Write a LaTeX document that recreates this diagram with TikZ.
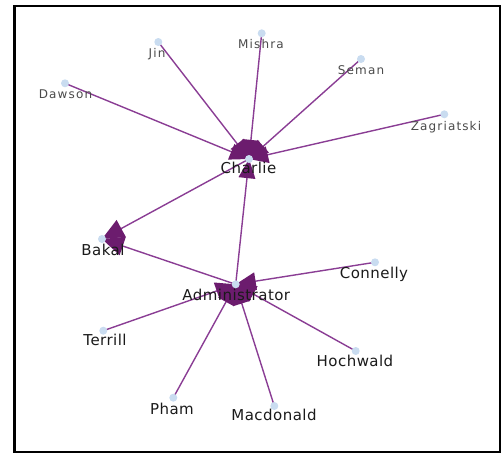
\documentclass[tikz,border=0pt]{standalone}
\usepackage{fontspec}
\setmainfont{DejaVu Sans}
\newfontfamily\leaffont[LetterSpace=9.5]{DejaVu Sans}
\newfontfamily\hubfont[LetterSpace=3]{DejaVu Sans}
\usetikzlibrary{calc}
\definecolor{edgepurple}{HTML}{8A3D94}
\definecolor{wedgepurple}{HTML}{6C1C6E}
\definecolor{dotblue}{HTML}{C9DCF0}
\definecolor{leafgray}{HTML}{4A4A4A}
\definecolor{hubblack}{HTML}{1A1A1A}
% triangular wedge at the tail of an edge: #1 tail, #2 head, #3 length
\newcommand\edgetri[3]{\fill[wedgepurple] (#1) -- ($(#1)!#3!24:(#2)$) -- ($(#1)!#3!-24:(#2)$) -- cycle;}
\begin{document}
\begin{tikzpicture}[x=1pt,y=-1pt,
  link/.style={draw=edgepurple,line width=1.4pt},
  dot/.style={circle,fill=dotblue,inner sep=0pt,minimum size=8pt},
  outerlabel/.style={anchor=base,inner sep=0pt,text=leafgray,font=\leaffont\fontsize{12}{14}\selectfont},
  innerlabel/.style={anchor=base,inner sep=0pt,text=hubblack,font=\hubfont\fontsize{15}{17}\selectfont}]
\useasboundingbox (0,0) rectangle (501,455);
\draw[line width=2.5pt] (14.5,6) rectangle (500,452);

% vertex positions
\coordinate (charlie)    at (249,159);
\coordinate (dawson)     at (65,83.3);
\coordinate (jin)        at (158.3,42);
\coordinate (mishra)     at (261.7,33.3);
\coordinate (seman)      at (361,59);
\coordinate (zagriatski) at (444.3,114.3);
\coordinate (bakal)      at (102,239);
\coordinate (admin)      at (235.7,284.3);
\coordinate (connelly)   at (375,262.3);
\coordinate (hochwald)   at (355.7,351);
\coordinate (terrill)    at (103.3,330.7);
\coordinate (pham)       at (173.3,397.7);
\coordinate (macdonald)  at (274.3,406);

% links
\foreach \t in {dawson,jin,mishra,seman,zagriatski,bakal,admin}
  \draw[link] (charlie) -- (\t);
\draw[link] (bakal) -- (admin);
\foreach \t in {connelly,hochwald,terrill,pham,macdonald}
  \draw[link] (admin) -- (\t);

% wedges
\foreach \t in {dawson,jin,mishra,seman,zagriatski,admin}
  {\edgetri{charlie}{\t}{21pt}}
\edgetri{bakal}{charlie}{24pt}
\edgetri{bakal}{admin}{24pt}
\foreach \t in {connelly,hochwald,terrill,pham,macdonald}
  {\edgetri{admin}{\t}{22pt}}

% vertex dots
\foreach \v in {charlie,dawson,jin,mishra,seman,zagriatski,bakal,admin,connelly,hochwald,terrill,pham,macdonald}
  \node[dot] (\v-dot) at (\v) {};

% labels
\node[outerlabel] (l-jin)        at (157,57)    {Jin};
\node[outerlabel] (l-mishra)     at (261,48.7)  {Mishra};
\node[outerlabel] (l-seman)      at (361,74)    {Seman};
\node[outerlabel] (l-dawson)     at (65.5,98)   {Dawson};
\node[outerlabel] (l-zagriatski) at (446,130)   {Zagriatski};
\node[innerlabel] (l-charlie)    at (248.5,173.3) {Charlie};
\node[innerlabel] (l-bakal)      at (103,255)   {Bakal};
\node[innerlabel] (l-admin)      at (236.3,300) {Administrator};
\node[innerlabel] (l-connelly)   at (374,278)   {Connelly};
\node[innerlabel] (l-hochwald)   at (355,366.7) {Hochwald};
\node[innerlabel] (l-terrill)    at (105,345)   {Terrill};
\node[innerlabel] (l-pham)       at (172,414)   {Pham};
\node[innerlabel] (l-macdonald)  at (274,420.7) {Macdonald};
\end{tikzpicture}
\end{document}
